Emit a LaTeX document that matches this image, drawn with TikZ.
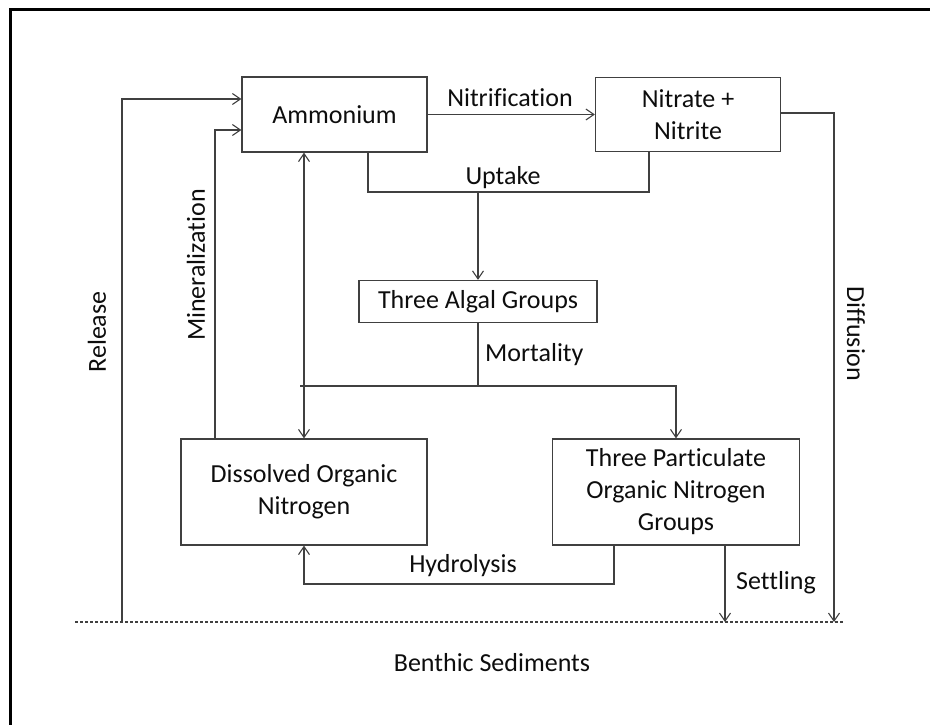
\documentclass[tikz,border=0pt]{standalone}
\usepackage{fontspec}
\setmainfont[Ligatures=NoCommon]{Carlito}
\usetikzlibrary{arrows.meta}
\newcommand{\diagfont}{\fontsize{26}{32}\selectfont}
\definecolor{linec}{gray}{0.25}
\definecolor{txtc}{gray}{0.05}
\begin{document}
\begin{tikzpicture}[x=1pt,y=-1pt,
  box/.style={draw=linec,line width=1.3pt,inner sep=0pt,align=center,font=\diagfont,text=txtc},
  con/.style={draw=linec,line width=1.1pt},
  arr/.style={con,-{Straight Barb[length=8pt,width=11pt]}},
  darr/.style={con,{Straight Barb[length=8pt,width=11pt]}-{Straight Barb[length=8pt,width=11pt]}},
  lab/.style={font=\diagfont,inner sep=0pt,text=txtc},
  sed/.style={draw=linec,line width=1.1pt,dash pattern=on 3pt off 2pt}]
\useasboundingbox (0,0) rectangle (930,725);
\draw[line width=3pt] (10.5,725) -- (10.5,9.5) -- (930,9.5);

% boxes
\node[box,minimum width=185pt,minimum height=75pt] (amm) at (334.5,114.5) {Ammonium};
\node[box,minimum width=185pt,minimum height=74pt] (nit) at (688,114.5) {Nitrate +\\Nitrite};
\node[box,minimum width=238pt,minimum height=42pt] (alg) at (478,301.5) {Three Algal Groups};
\node[box,minimum width=246pt,minimum height=106pt] (don) at (304,492) {Dissolved Organic\\Nitrogen};
\node[box,minimum width=247pt,minimum height=106pt] (pon) at (676,492) {Three Particulate\\Organic Nitrogen\\Groups};

% coordinates
\coordinate (up) at (478,192);
\coordinate (mj) at (478,386);
\coordinate (ml) at (300,386);
\coordinate (rel) at (122,622);
\coordinate (set) at (725,622);
\coordinate (dif) at (834,622);
\coordinate (sedL) at (75,622);
\coordinate (sedR) at (843,622);

% sediment line
\draw[sed] (sedL) -- (sedR);

% connectors
\draw[arr] (amm.east) -- (nit.west);
\draw[con] (amm.south -| 368,0) |- (up) -| (nit.south -| 649,0);
\draw[arr] (up) -- (alg.north);
\draw[con] (alg.south) -- (mj);
\draw[con] (ml) -- (mj);
\draw[arr] (mj) -| (pon.north);
\draw[darr] (amm.south -| don.north) -- (don.north);
\draw[arr] (don.north -| 215,0) |- (amm.west |- 0,130);
\draw[arr] (rel) |- (amm.west |- 0,99);
\draw[arr] (nit.east |- 0,113) -| (dif);
\draw[arr] (pon.south -| set) -- (set);
\draw[arr] (pon.south -| 614,0) |- (don.south |- 0,584) -- (don.south);

% labels
\node[lab] (lnitr) at (510,98) {Nitrification};
\node[lab] (lup) at (503,178) {Uptake};
\node[lab,anchor=west] (lmort) at (485,355) {Mortality};
\node[lab] (lhyd) at (463,566) {Hydrolysis};
\node[lab] (lset) at (776,583) {Settling};
\node[lab] (lben) at (492,663) {Benthic Sediments};
\node[lab,rotate=90] (lrel) at (97,332) {Release};
\node[lab,rotate=90] (lmin) at (196,265) {Mineralization};
\node[lab,rotate=-90] (ldif) at (856,334) {Diffusion};
\end{tikzpicture}
\end{document}
